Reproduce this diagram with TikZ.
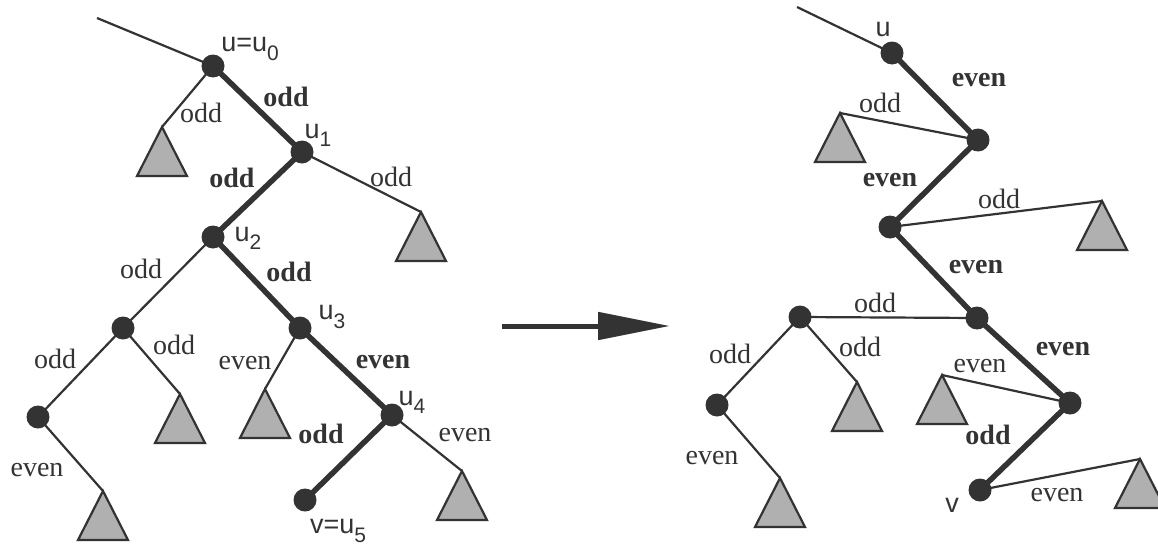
\documentclass[tikz,border=0pt]{standalone}
\usepackage{fontspec}
\setmainfont{Liberation Serif}
\newfontfamily\lsans{Liberation Sans}
\usetikzlibrary{arrows.meta,backgrounds}
\definecolor{ink}{HTML}{333333}
\definecolor{trifill}{HTML}{B0B0B0}
\tikzset{
  dot/.style={circle, fill=ink, draw=none, minimum size=23pt, inner sep=0pt},
  thinedge/.style={draw=ink, line width=2.2pt},
  thickedge/.style={draw=ink, line width=5.5pt},
  lab/.style={font=\fontsize{28}{30}\selectfont, text=ink, inner sep=0pt},
  blab/.style={font=\fontsize{28}{30}\selectfont\bfseries, text=ink, inner sep=0pt},
  vlab/.style={font=\lsans\fontsize{27}{30}\selectfont, text=ink, inner sep=0pt},
  subtree/.style={draw=ink, fill=trifill, line width=2.2pt, line join=miter},
}
\newcommand\sbs[1]{\raisebox{-0.3em}{\fontsize{21}{22}\selectfont #1}}
\newcommand\drawtri[1]{\draw[subtree] (#1) -- ++(-25,49) -- ++(50,0) -- cycle;}
\begin{document}
\begin{tikzpicture}[x=1pt,y=-1pt]
\useasboundingbox (0,0) rectangle (1158,546);

% ---------------- left tree ----------------
\coordinate (ltop) at (97,18);
\node[dot] (u0) at (213,66) {};
\node[dot] (u1) at (302,152) {};
\node[dot] (u2) at (213,237) {};
\node[dot] (u3) at (300,328) {};
\node[dot] (u4) at (392,415) {};
\node[dot] (u5) at (305,500) {};
\node[dot] (na) at (123,328) {};
\node[dot] (nb) at (38,417) {};
\coordinate (ta) at (162,127);
\coordinate (tb) at (421,212);
\coordinate (tc) at (180,394);
\coordinate (td) at (103,491);
\coordinate (te) at (265,389);
\coordinate (tf) at (462,471);

% ---------------- right tree ----------------
\coordinate (rtop) at (797,7);
\node[dot] (r0) at (892,53) {};
\node[dot] (r1) at (978,140) {};
\node[dot] (r2) at (890,227) {};
\node[dot] (r3) at (977,318) {};
\node[dot] (r4) at (800,317) {};
\node[dot] (r5) at (717,405) {};
\node[dot] (r6) at (1070,403) {};
\node[dot] (rv) at (980,490) {};
\coordinate (s1) at (840,113);
\coordinate (s2) at (1102,201);
\coordinate (s3) at (857,382);
\coordinate (s4) at (780,478);
\coordinate (s5) at (942,375);
\coordinate (s6) at (1140,459);

\begin{pgfonlayer}{background}
  % left edges
  \draw[thinedge] (ltop) -- (u0.center);
  \draw[thickedge] (u0.center) -- (u1.center);
  \draw[thickedge] (u1.center) -- (u2.center);
  \draw[thickedge] (u2.center) -- (u3.center);
  \draw[thickedge] (u3.center) -- (u4.center);
  \draw[thickedge] (u4.center) -- (u5.center);
  \draw[thinedge] (u0.center) -- (ta);
  \draw[thinedge] (u1.center) -- (tb);
  \draw[thinedge] (u2.center) -- (na.center);
  \draw[thinedge] (na.center) -- (nb.center);
  \draw[thinedge] (na.center) -- (tc);
  \draw[thinedge] (nb.center) -- (td);
  \draw[thinedge] (u3.center) -- (te);
  \draw[thinedge] (u4.center) -- (tf);
  % right edges
  \draw[thinedge] (rtop) -- (r0.center);
  \draw[thickedge] (r0.center) -- (r1.center);
  \draw[thickedge] (r1.center) -- (r2.center);
  \draw[thickedge] (r2.center) -- (r3.center);
  \draw[thickedge] (r3.center) -- (r6.center);
  \draw[thickedge] (r6.center) -- (rv.center);
  \draw[thinedge] (r1.center) -- (s1);
  \draw[thinedge] (r2.center) -- (s2);
  \draw[thinedge] (r3.center) -- (r4.center);
  \draw[thinedge] (r4.center) -- (r5.center);
  \draw[thinedge] (r4.center) -- (s3);
  \draw[thinedge] (r5.center) -- (s4);
  \draw[thinedge] (r6.center) -- (s5);
  \draw[thinedge] (rv.center) -- (s6);
  % subtrees
  \drawtri{ta}\drawtri{tb}\drawtri{tc}\drawtri{td}\drawtri{te}\drawtri{tf}
  \drawtri{s1}\drawtri{s2}\drawtri{s3}\drawtri{s4}\drawtri{s5}\drawtri{s6}
\end{pgfonlayer}

% left labels
\node[vlab] (lu0) at (250,49) {u=u\sbs{0}};
\node[lab]  (l1) at (201,113) {odd};
\node[blab] (l2) at (286,97) {odd};
\node[vlab] (lu1) at (318,135) {u\sbs{1}};
\node[blab] (l3) at (232,178) {odd};
\node[lab]  (l4) at (391,177) {odd};
\node[vlab] (lu2) at (248,238) {u\sbs{2}};
\node[lab]  (l5) at (141,269) {odd};
\node[blab] (l6) at (289,272) {odd};
\node[vlab] (lu3) at (332,317) {u\sbs{3}};
\node[lab]  (l7) at (55,359) {odd};
\node[lab]  (l8) at (174,345) {odd};
\node[lab]  (l9) at (245,363) {even};
\node[blab] (l10) at (383,362) {even};
\node[vlab] (lu4) at (412,402) {u\sbs{4}};
\node[blab] (l11) at (321,434) {odd};
\node[lab]  (l12) at (465,435) {even};
\node[lab]  (l13) at (37,470) {even};
\node[vlab] (lu5) at (338,531) {v=u\sbs{5}};

% arrow
\coordinate (a1) at (502,326);
\coordinate (a2) at (670,326);
\draw[draw=ink, line width=5pt, -{Triangle[length=72pt,width=27pt]}, color=ink] (a1) -- (a2);

% right labels
\node[vlab] (ru) at (883,29) {u};
\node[blab] (m1) at (979,80) {even};
\node[lab]  (m2) at (880,103) {odd};
\node[blab] (m3) at (890,180) {even};
\node[lab]  (m4) at (999,199) {odd};
\node[blab] (m5) at (976,267) {even};
\node[lab]  (m6) at (875,303) {odd};
\node[lab]  (m7) at (730,354) {odd};
\node[lab]  (m8) at (860,347) {odd};
\node[blab] (m9) at (1063,349) {even};
\node[lab]  (m10) at (980,366) {even};
\node[blab] (m11) at (988,435) {odd};
\node[lab]  (m12) at (712,458) {even};
\node[vlab] (rvl) at (952,505) {v};
\node[lab]  (m13) at (1057,495) {even};
\end{tikzpicture}
\end{document}
